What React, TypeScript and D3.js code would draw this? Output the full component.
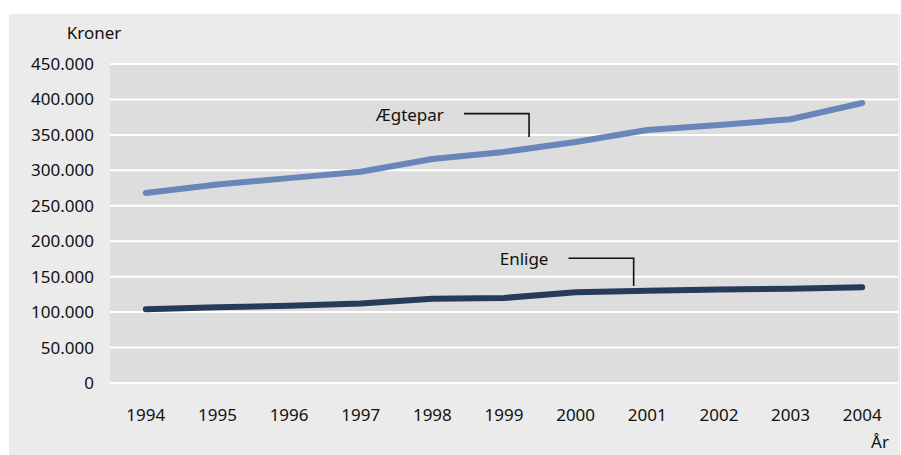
import React from "react";
import * as d3 from "d3";

const years = ["1994", "1995", "1996", "1997", "1998", "1999", "2000", "2001", "2002", "2003", "2004"];
const aegtepar = [268000, 280000, 289000, 298000, 316000, 326000, 340000, 357000, 364000, 372000, 395000];
const enlige = [104000, 107000, 109000, 112000, 119000, 120000, 128000, 130000, 132000, 133000, 135000];
const yTicks = [0, 50000, 100000, 150000, 200000, 250000, 300000, 350000, 400000, 450000];

// callouts: label, where the leader starts/bends (in year index + kroner), where it ends
const callouts = [
  { label: "Ægtepar", from: 4.44, to: 5.35, level: 380000, end: 347000 },
  { label: "Enlige", from: 5.9, to: 6.81, level: 176000, end: 137000 },
];

const W = 901;
const H = 455;
const plot = { left: 110, right: 898, top: 64, bottom: 383 };
const font = "'Noto Sans', 'DejaVu Sans', sans-serif";
const fs = 17;

const dk = d3.formatLocale({ decimal: ",", thousands: ".", grouping: [3], currency: ["", " kr."] });
const fmt = dk.format(",");

export default function App() {
  const x = d3.scaleBand<string>().domain(years).range([plot.left, plot.right]).padding(0);
  const xi = d3
    .scaleLinear()
    .domain([0, years.length - 1])
    .range([x(years[0])! + x.bandwidth() / 2, x(years[years.length - 1])! + x.bandwidth() / 2]);
  const y = d3.scaleLinear().domain([0, 450000]).range([plot.bottom, plot.top]);

  const line = d3
    .line<number>()
    .x((_, i) => xi(i))
    .y((d) => y(d));

  const series = [
    { values: aegtepar, color: "#6a86b8" },
    { values: enlige, color: "#283a5a" },
  ];

  return (
    <svg width={W} height={H} style={{ position: "absolute", left: 0, top: 0 }} fontFamily={font}>
      <rect x={0} y={0} width={W} height={H} fill="#ffffff" />
      <rect x={9} y={14} width={891} height={441} fill="#ebebeb" />
      <rect x={plot.left} y={plot.top} width={plot.right - plot.left} height={plot.bottom - plot.top} fill="#dddddd" />

      {yTicks.map((t) => (
        <g key={t}>
          <line x1={plot.left} x2={plot.right} y1={y(t)} y2={y(t)} stroke="#ffffff" strokeWidth={2} />
          <text x={94} y={y(t)} dy="0.35em" textAnchor="end" fontSize={fs} fill="#111111">
            {fmt(t)}
          </text>
        </g>
      ))}

      <text x={94} y={33} dy="0.35em" textAnchor="middle" fontSize={fs} fill="#111111">
        Kroner
      </text>

      {years.map((yr) => (
        <text key={yr} x={x(yr)! + x.bandwidth() / 2} y={415} dy="0.35em" textAnchor="middle" fontSize={fs} fill="#111111">
          {yr}
        </text>
      ))}
      <text x={880} y={442} dy="0.35em" textAnchor="middle" fontSize={fs} fill="#111111">
        År
      </text>

      {series.map((s, i) => (
        <path
          key={i}
          d={line(s.values) ?? ""}
          fill="none"
          stroke={s.color}
          strokeWidth={6}
          strokeLinecap="round"
          strokeLinejoin="round"
        />
      ))}

      {callouts.map((c) => (
        <g key={c.label}>
          <path
            d={`M${xi(c.from)},${y(c.level)}H${xi(c.to)}V${y(c.end)}`}
            fill="none"
            stroke="#111111"
            strokeWidth={1.6}
          />
          <text x={xi(c.from) - 20} y={y(c.level) + 1} dy="0.35em" textAnchor="end" fontSize={fs} fill="#111111">
            {c.label}
          </text>
        </g>
      ))}
    </svg>
  );
}
